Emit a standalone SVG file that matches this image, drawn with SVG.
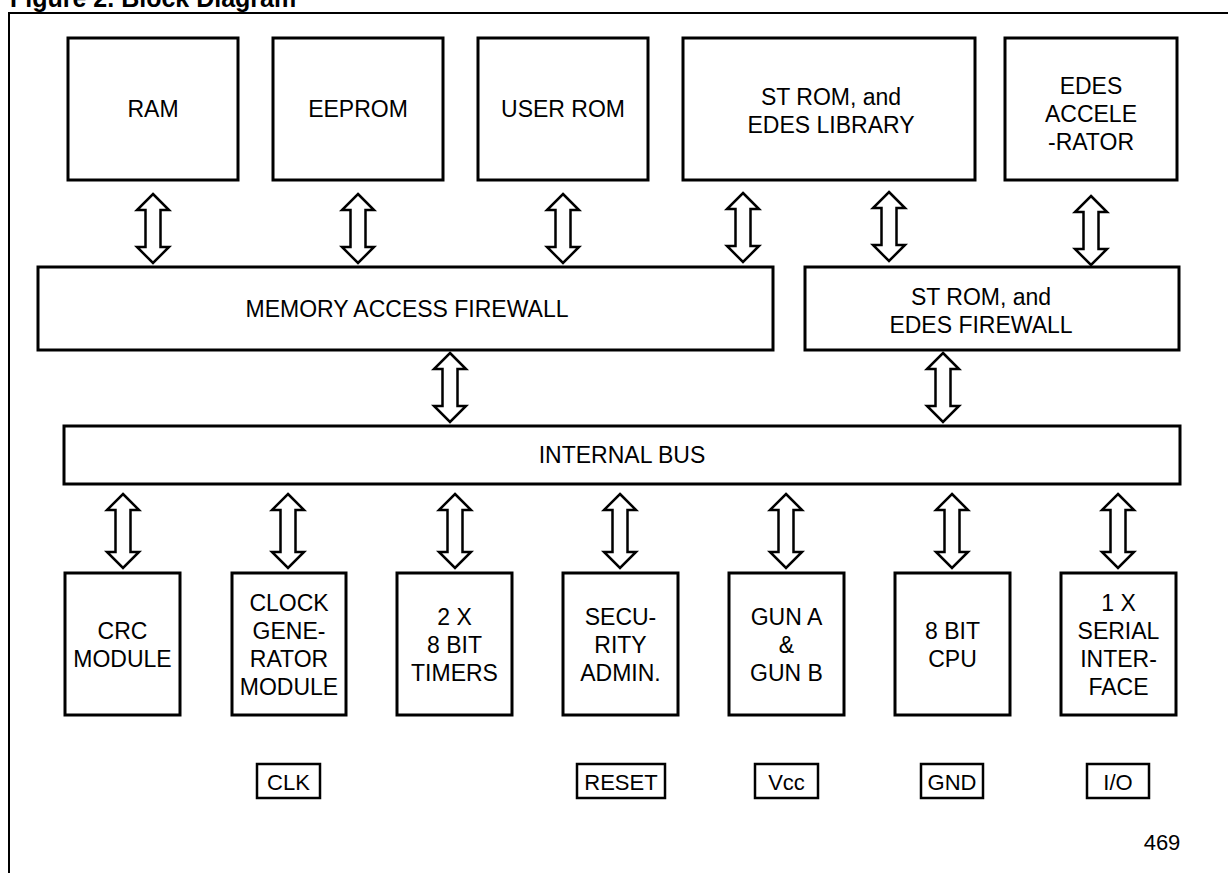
<svg xmlns="http://www.w3.org/2000/svg" width="1228" height="873" viewBox="0 0 1228 873">
<style>
.b{fill:#fff;stroke:#000;stroke-width:3}
.p{fill:#fff;stroke:#000;stroke-width:2.5}
.a{fill:#fff;stroke:#000;stroke-width:2.5;stroke-linejoin:miter}
text{font-family:"Liberation Sans",Arial,sans-serif;font-size:23px;fill:#000;text-anchor:middle}
.t{font-size:25px;font-weight:bold;text-anchor:start}
.s{font-size:22px}
</style>
<rect width="1228" height="873" fill="#fff"/>
<text class="t" x="10" y="7">Figure 2. Block Diagram</text>
<path d="M9,873 V13 H1228" fill="none" stroke="#000" stroke-width="2"/>
<g id="ram"><rect class="b" x="68" y="38" width="170" height="142"/><text x="153" y="117">RAM</text></g>
<g id="eeprom"><rect class="b" x="273" y="38" width="170" height="142"/><text x="358" y="117">EEPROM</text></g>
<g id="userrom"><rect class="b" x="478" y="38" width="170" height="142"/><text x="563" y="117">USER ROM</text></g>
<g id="strom"><rect class="b" x="683" y="38" width="292" height="142"/><text x="831" y="105">ST ROM, and</text><text x="831" y="133">EDES LIBRARY</text></g>
<g id="edesacc"><rect class="b" x="1005" y="38" width="172" height="142"/><text x="1091" y="94">EDES</text><text x="1091" y="122">ACCELE</text><text x="1091" y="150">-RATOR</text></g>
<g id="memfw"><rect class="b" x="38" y="267" width="735" height="83"/><text x="407" y="317">MEMORY ACCESS FIREWALL</text></g>
<g id="edesfw"><rect class="b" x="805" y="267" width="374" height="83"/><text x="981" y="305">ST ROM, and</text><text x="981" y="333">EDES FIREWALL</text></g>
<g id="bus"><rect class="b" x="64" y="426" width="1116" height="58"/><text x="622" y="463">INTERNAL BUS</text></g>
<g id="crc"><rect class="b" x="65" y="573" width="115" height="142"/><text x="122.5" y="639">CRC</text><text x="122.5" y="667">MODULE</text></g>
<g id="clock"><rect class="b" x="232" y="573" width="114" height="142"/><text x="289" y="611">CLOCK</text><text x="289" y="639">GENE-</text><text x="289" y="667">RATOR</text><text x="289" y="695">MODULE</text></g>
<g id="timers"><rect class="b" x="397" y="573" width="115" height="142"/><text x="454.5" y="625">2 X</text><text x="454.5" y="653">8 BIT</text><text x="454.5" y="681">TIMERS</text></g>
<g id="security"><rect class="b" x="563" y="573" width="115" height="142"/><text x="620.5" y="625">SECU-</text><text x="620.5" y="653">RITY</text><text x="620.5" y="681">ADMIN.</text></g>
<g id="gun"><rect class="b" x="729" y="573" width="115" height="142"/><text x="786.5" y="625">GUN A</text><text x="786.5" y="653">&amp;</text><text x="786.5" y="681">GUN B</text></g>
<g id="cpu"><rect class="b" x="895" y="573" width="115" height="142"/><text x="952.5" y="639">8 BIT</text><text x="952.5" y="667">CPU</text></g>
<g id="serial"><rect class="b" x="1061" y="573" width="115" height="142"/><text x="1118.5" y="611">1 X</text><text x="1118.5" y="639">SERIAL</text><text x="1118.5" y="667">INTER-</text><text x="1118.5" y="695">FACE</text></g>
<g id="pin-clk"><rect class="p" x="257" y="764" width="63" height="34"/><text class="s" x="288.5" y="790">CLK</text></g>
<g id="pin-reset"><rect class="p" x="577" y="764" width="88" height="34"/><text class="s" x="621" y="790">RESET</text></g>
<g id="pin-vcc"><rect class="p" x="755" y="764" width="63" height="34"/><text class="s" x="786.5" y="790">Vcc</text></g>
<g id="pin-gnd"><rect class="p" x="921" y="764" width="62" height="34"/><text class="s" x="952" y="790">GND</text></g>
<g id="pin-io"><rect class="p" x="1087" y="764" width="62" height="34"/><text class="s" x="1118" y="790">I/O</text></g>
<text class="s" x="1162" y="850">469</text>
<g id="connectors">
<path class="a" d="M153,194 l16,16 h-8.5 v37 h8.5 l-16,16 l-16,-16 h8.5 v-37 h-8.5 z"/>
<path class="a" d="M358,194 l16,16 h-8.5 v37 h8.5 l-16,16 l-16,-16 h8.5 v-37 h-8.5 z"/>
<path class="a" d="M563,194 l16,16 h-8.5 v37 h8.5 l-16,16 l-16,-16 h8.5 v-37 h-8.5 z"/>
<path class="a" d="M743,193 l16,16 h-8.5 v37 h8.5 l-16,16 l-16,-16 h8.5 v-37 h-8.5 z"/>
<path class="a" d="M889,192 l16,16 h-8.5 v37 h8.5 l-16,16 l-16,-16 h8.5 v-37 h-8.5 z"/>
<path class="a" d="M1091,196 l16,16 h-8.5 v37 h8.5 l-16,16 l-16,-16 h8.5 v-37 h-8.5 z"/>
<path class="a" d="M450,353 l16,16 h-8.5 v37 h8.5 l-16,16 l-16,-16 h8.5 v-37 h-8.5 z"/>
<path class="a" d="M943,353 l16,16 h-8.5 v37 h8.5 l-16,16 l-16,-16 h8.5 v-37 h-8.5 z"/>
<path class="a" d="M123,494 l16,16 h-8.5 v42 h8.5 l-16,16 l-16,-16 h8.5 v-42 h-8.5 z"/>
<path class="a" d="M288,494 l16,16 h-8.5 v42 h8.5 l-16,16 l-16,-16 h8.5 v-42 h-8.5 z"/>
<path class="a" d="M455,494 l16,16 h-8.5 v42 h8.5 l-16,16 l-16,-16 h8.5 v-42 h-8.5 z"/>
<path class="a" d="M620,494 l16,16 h-8.5 v42 h8.5 l-16,16 l-16,-16 h8.5 v-42 h-8.5 z"/>
<path class="a" d="M786,494 l16,16 h-8.5 v42 h8.5 l-16,16 l-16,-16 h8.5 v-42 h-8.5 z"/>
<path class="a" d="M952,494 l16,16 h-8.5 v42 h8.5 l-16,16 l-16,-16 h8.5 v-42 h-8.5 z"/>
<path class="a" d="M1118,494 l16,16 h-8.5 v42 h8.5 l-16,16 l-16,-16 h8.5 v-42 h-8.5 z"/>
</g>
</svg>
